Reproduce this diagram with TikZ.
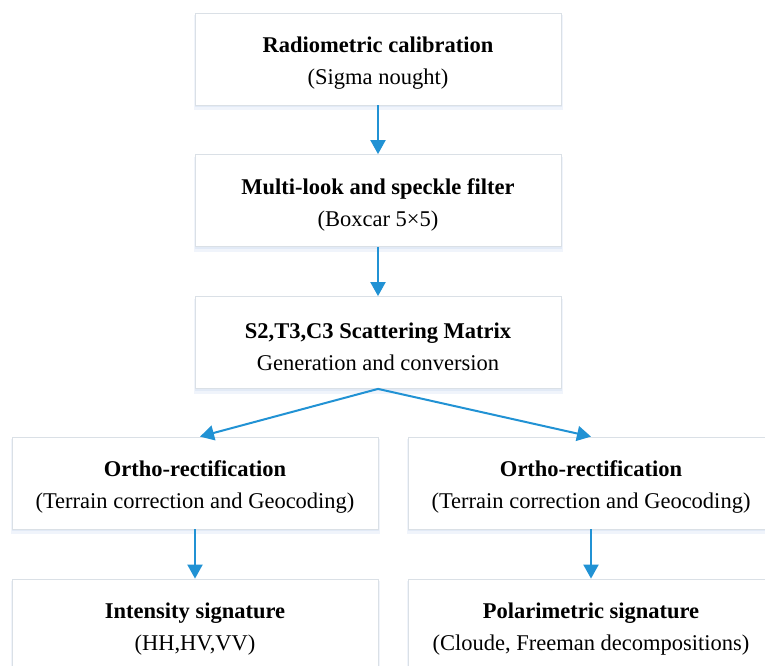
\documentclass[tikz,border=0pt]{standalone}
\usepackage{fontspec}
\setmainfont{Liberation Serif}
\usetikzlibrary{arrows.meta}
\definecolor{arrowblue}{RGB}{33,146,212}
\definecolor{boxline}{RGB}{218,224,230}
\definecolor{shadowfar}{RGB}{240,244,251}
\definecolor{shadownear}{RGB}{226,234,246}
\tikzset{
  stepbox/.style={draw=boxline, line width=0.8pt, fill=white,
    minimum width=366pt, minimum height=92pt, align=center,
    inner sep=0pt, font=\fontsize{22.5}{32}\selectfont,
    preaction={fill=shadowfar, draw=shadowfar, line width=3pt, transform canvas={yshift=-3.5pt}},
    preaction={fill=shadownear, draw=shadownear, line width=1pt, transform canvas={yshift=-1.8pt}}},
  flow/.style={draw=arrowblue, line width=2pt, -{Triangle[length=14pt,width=15pt]}}
}
\newcommand{\upstrut}{\rule{0pt}{24pt}}
\begin{document}
\begin{tikzpicture}[x=1pt,y=-1pt]
\useasboundingbox (0,0) rectangle (765,665);
\fill[white] (0,0) rectangle (765,665);
\node[stepbox] (b1) at (378,59) {\upstrut\textbf{Radiometric calibration}\\(Sigma nought)};
\node[stepbox] (b2) at (378,200.5) {\upstrut\textbf{Multi-look and speckle filter}\\(Boxcar 5×5)};
\node[stepbox] (b3) at (378,342.5) {\upstrut\textbf{S2,T3,C3 Scattering Matrix}\\Generation and conversion};
\node[stepbox] (b4) at (195,483) {\upstrut\textbf{Ortho-rectification}\\(Terrain correction and Geocoding)};
\node[stepbox] (b5) at (591,483) {\upstrut\textbf{Ortho-rectification}\\(Terrain correction and Geocoding)};
\node[stepbox] (b6) at (195,625) {\upstrut\textbf{Intensity signature}\\(HH,HV,VV)};
\node[stepbox] (b7) at (591,625) {\upstrut\textbf{Polarimetric signature}\\(Cloude, Freeman decompositions)};
\draw[flow] (b1.south) -- (b2.north);
\draw[flow] (b2.south) -- (b3.north);
\draw[flow] (b3.south) -- ([xshift=5pt]b4.north);
\draw[flow] (b3.south) -- (b5.north);
\draw[flow] (b4.south) -- (b6.north);
\draw[flow] (b5.south) -- (b7.north);
\end{tikzpicture}
\end{document}
